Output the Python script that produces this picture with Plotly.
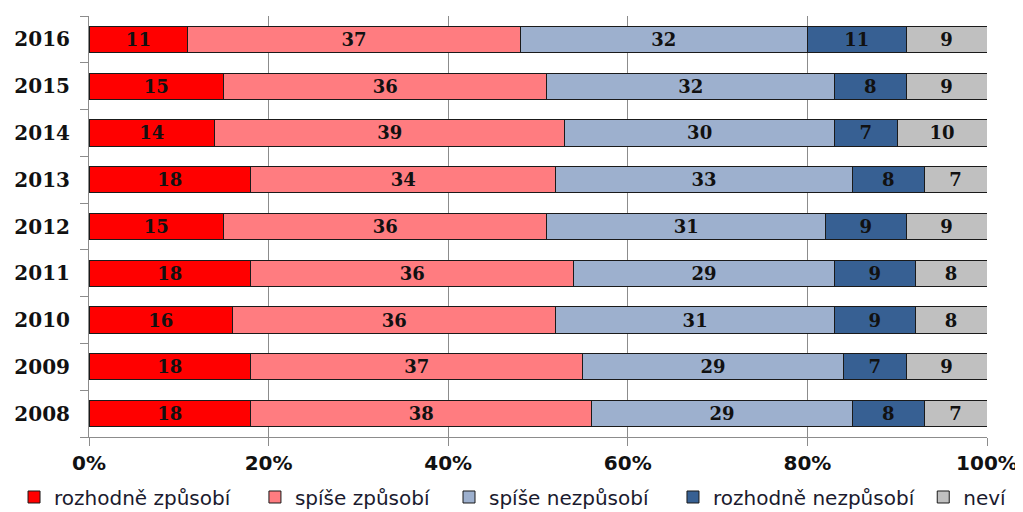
import plotly.graph_objects as go

years = ["2016", "2015", "2014", "2013", "2012", "2011", "2010", "2009", "2008"]
series_names = ["rozhodně způsobí", "spíše způsobí", "spíše nezpůsobí", "rozhodně nezpůsobí", "neví"]
rozhodne_zpusobi = [11, 15, 14, 18, 15, 18, 16, 18, 18]
spise_zpusobi = [37, 36, 39, 34, 36, 36, 36, 37, 38]
spise_nezpusobi = [32, 32, 30, 33, 31, 29, 31, 29, 29]
rozhodne_nezpusobi = [11, 8, 7, 8, 9, 9, 9, 7, 8]
nevi = [9, 9, 10, 7, 9, 8, 8, 9, 7]
colors = ["#FF0000", "#FF7C80", "#9DB0CE", "#376093", "#C0C0C0"]
x_ticks = [0, 20, 40, 60, 80, 100]

values = [rozhodne_zpusobi, spise_zpusobi, spise_nezpusobi, rozhodne_nezpusobi, nevi]

# legend entry anchor positions (paper x), one legend box per series
legend_x = [-0.0835, 0.1848, 0.4009, 0.6503, 0.929]
legend_ids = ["legend", "legend2", "legend3", "legend4", "legend5"]

fig = go.Figure()
for name, vals, col, lid in zip(series_names, values, colors, legend_ids):
    fig.add_trace(go.Bar(
        y=years, x=vals, name=name, orientation="h", legend=lid,
        marker=dict(color=col, line=dict(color="#1a1a1a", width=1)),
        text=[str(v) for v in vals], textposition="inside",
        insidetextanchor="middle", textangle=0, constraintext="none",
        textfont=dict(family="DejaVu Serif", size=18, color="#111111", weight="bold"),
        width=0.56,
    ))

legend_common = dict(orientation="h", xanchor="left", y=-0.1425, yanchor="middle",
                     font=dict(family="DejaVu Sans", size=20, color="#1a1a2e"),
                     itemwidth=30, bgcolor="rgba(0,0,0,0)")

# page body has an 8px margin, so the figure is sized to fill the rest of the window
fig.update_layout(
    barmode="stack",
    width=1015, height=504,
    margin=dict(l=81, r=36, t=8, b=75, autoexpand=False),
    plot_bgcolor="white", paper_bgcolor="white",
    showlegend=True,
)
fig.update_layout({lid: dict(x=lx, **legend_common) for lid, lx in zip(legend_ids, legend_x)})

fig.update_xaxes(
    range=[0, 100], tickvals=x_ticks, ticktext=[f"{v}%" for v in x_ticks],
    showgrid=True, gridcolor="#8c8c8c", gridwidth=1,
    ticks="outside", ticklen=8, tickcolor="#8c8c8c",
    showline=True, linecolor="#8c8c8c",
    tickfont=dict(family="DejaVu Sans", size=20, color="#111111", weight="bold"),
    zeroline=False, automargin=False,
)
fig.update_yaxes(
    categoryorder="array", categoryarray=years[::-1],
    showline=True, linecolor="#8c8c8c",
    ticks="outside", ticklen=8, tickcolor="#8c8c8c", tickson="boundaries",
    ticklabelstandoff=14, automargin=False,
    tickfont=dict(family="DejaVu Serif", size=20, color="#111111", weight="bold"),
    showgrid=False,
)

fig.write_html("out.html")
